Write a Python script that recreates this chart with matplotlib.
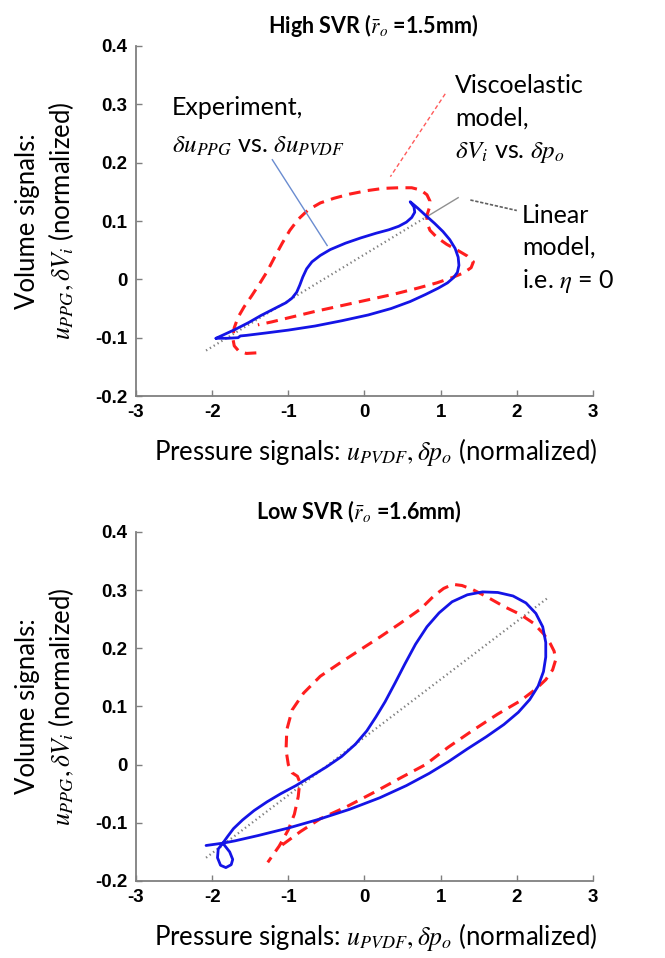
import matplotlib
matplotlib.use('Agg')
import matplotlib.pyplot as plt
import numpy as np

plt.rcParams['font.family'] = ['Lato', 'DejaVu Sans']
plt.rcParams['mathtext.fontset'] = 'stix'

# ---------------- data: High SVR (top panel) ----------------
hi_exp_x = [-1.95, -1.85, -1.70, -1.52, -1.36, -1.18, -1.03, -0.95, -0.89, -0.85, -0.81, -0.76,
            -0.69, -0.58, -0.45, -0.25, -0.05, 0.15, 0.32, 0.45, 0.55, 0.62, 0.66, 0.65, 0.60,
            0.70, 0.80, 0.92, 1.03, 1.12, 1.19, 1.23, 1.24, 1.22, 1.17, 1.09, 0.97, 0.80, 0.60,
            0.35, 0.05, -0.30, -0.65, -1.00, -1.30, -1.55, -1.63, -1.66, -1.80, -1.95]
hi_exp_y = [-0.101, -0.095, -0.086, -0.074, -0.062, -0.050, -0.040, -0.032, -0.022, -0.010, 0.004, 0.018,
            0.030, 0.041, 0.051, 0.062, 0.071, 0.079, 0.085, 0.091, 0.098, 0.106, 0.115, 0.124, 0.133,
            0.122, 0.110, 0.096, 0.082, 0.068, 0.053, 0.038, 0.024, 0.012, 0.003, -0.006, -0.015, -0.026, -0.038,
            -0.050, -0.061, -0.071, -0.080, -0.087, -0.092, -0.096, -0.097, -0.100, -0.101, -0.101]

hi_visc_x = [-1.42, -1.55, -1.65, -1.71, -1.73, -1.71, -1.66, -1.58, -1.48, -1.38, -1.28, -1.18,
             -1.08, -0.98, -0.87, -0.74, -0.58, -0.40, -0.20, 0.03, 0.25, 0.45, 0.62, 0.74, 0.82,
             0.86, 0.85, 0.82, 0.82, 0.86, 0.95, 1.08, 1.22, 1.35, 1.43, 1.40, 1.30, 1.15, 0.95,
             0.70, 0.40, 0.05, -0.30, -0.65, -1.00, -1.22, -1.40]
hi_visc_y = [-0.126, -0.127, -0.123, -0.114, -0.100, -0.083, -0.065, -0.047, -0.028, -0.008, 0.013, 0.038,
             0.062, 0.084, 0.103, 0.119, 0.131, 0.139, 0.146, 0.152, 0.156, 0.157, 0.157, 0.153, 0.145,
             0.134, 0.122, 0.110, 0.097, 0.084, 0.072, 0.060, 0.050, 0.040, 0.030, 0.020, 0.011, 0.003, -0.006,
             -0.015, -0.025, -0.035, -0.045, -0.055, -0.066, -0.073, -0.078]

hi_lin_x = [-2.08, 0.80]
hi_lin_y = [-0.122, 0.106]
hi_lin_tail_x = [0.80, 1.23]
hi_lin_tail_y = [0.106, 0.140]

# ---------------- data: Low SVR (bottom panel) ----------------
lo_exp_x = [-2.08, -1.97, -1.86, -1.80, -1.72, -1.60, -1.45, -1.28, -1.10, -0.90, -0.70, -0.50,
            -0.30, -0.12, 0.03, 0.15, 0.27, 0.40, 0.53, 0.67, 0.82, 0.98, 1.15, 1.35, 1.55,
            1.75, 1.95, 2.12, 2.25, 2.34, 2.38, 2.38, 2.35, 2.28, 2.17, 2.02, 1.83, 1.60, 1.35,
            1.10, 0.85, 0.55, 0.20, -0.20, -0.60, -1.00, -1.40, -1.70, -1.86, -1.92, -1.93,
            -1.89, -1.82, -1.75, -1.73, -1.77, -1.86]
lo_exp_y = [-0.139, -0.137, -0.135, -0.124, -0.110, -0.095, -0.079, -0.064, -0.050, -0.036, -0.020, -0.004,
            0.014, 0.035, 0.058, 0.082, 0.108, 0.140, 0.173, 0.207, 0.237, 0.261, 0.280, 0.292, 0.297,
            0.296, 0.290, 0.278, 0.260, 0.237, 0.210, 0.185, 0.160, 0.135, 0.112, 0.090, 0.069, 0.048, 0.027,
            0.005, -0.015, -0.036, -0.057, -0.077, -0.094, -0.109, -0.122, -0.131, -0.135, -0.145, -0.160,
            -0.173, -0.177, -0.172, -0.163, -0.150, -0.135]

lo_visc_x = [-1.08, -0.84, -0.58, -0.23, 0.12, 0.47, 0.80, 1.10, 1.40, 1.75, 2.05, 2.25, 2.38,
             2.47, 2.51, 2.49, 2.44, 2.35, 2.22, 2.05, 1.83, 1.60, 1.42, 1.28, 1.16, 1.04, 0.91,
             0.74, 0.47, 0.21, -0.05, -0.32, -0.58, -0.80, -0.95, -1.02, -1.03, -1.00, -0.95,
             -0.88, -0.85, -0.87, -0.92, -1.00, -1.12, -1.27]
lo_visc_y = [-0.138, -0.115, -0.093, -0.072, -0.048, -0.023, 0.000, 0.030, 0.057, 0.087, 0.110, 0.130, 0.146,
             0.163, 0.180, 0.195, 0.208, 0.225, 0.243, 0.258, 0.272, 0.289, 0.301, 0.308, 0.310, 0.303, 0.290,
             0.268, 0.243, 0.220, 0.198, 0.175, 0.152, 0.123, 0.094, 0.060, 0.025, 0.000, -0.014,
             -0.020, -0.030, -0.055, -0.085, -0.112, -0.140, -0.168]

lo_lin_x = [-2.08, 2.42]
lo_lin_y = [-0.160, 0.288]

xticks = [-3, -2, -1, 0, 1, 2, 3]
yticks = [-0.2, -0.1, 0, 0.1, 0.2, 0.3, 0.4]
ytick_labels = ['-0.2', '-0.1', '0', '0.1', '0.2', '0.3', '0.4']

blue = '#1414e6'
red = '#ff1e1e'
gray = '#7f7f7f'

fig = plt.figure(figsize=(6.65, 9.58), dpi=100)
ax1 = fig.add_axes([0.2045, 0.5866, 0.6872, 0.3654])
ax2 = fig.add_axes([0.2045, 0.0804, 0.6872, 0.3643])


def style_axes(ax, title, title_x):
    ax.set_xlim(-3, 3)
    ax.set_ylim(-0.2, 0.4)
    ax.set_xticks(xticks)
    ax.set_xticklabels([str(t) for t in xticks])
    ax.set_yticks(yticks)
    ax.set_yticklabels(ytick_labels)
    for s in ['top', 'right']:
        ax.spines[s].set_visible(False)
    for s in ['left', 'bottom']:
        ax.spines[s].set_color(gray)
        ax.spines[s].set_linewidth(1.3)
    ax.tick_params(direction='in', length=4, width=1, color=gray, pad=6)
    for lab in ax.get_xticklabels() + ax.get_yticklabels():
        lab.set_fontfamily('Liberation Sans')
        lab.set_fontweight('bold')
        lab.set_fontsize(13.5)
    ax.set_title(title, fontsize=15.5, fontweight='bold', pad=9, x=title_x)
    ax.set_xlabel('Pressure signals: $u_{PVDF}, \\delta p_o$ (normalized)', fontsize=18.5, labelpad=12)
    ax.xaxis.set_label_coords(0.525, -0.115)
    ax.set_ylabel('Volume signals:\n$u_{PPG}, \\delta V_i$ (normalized)', fontsize=18.5, labelpad=14,
                  linespacing=1.25)


dash = (0, (3.8, 2.4))
kw = dict(solid_joinstyle='round', solid_capstyle='round', dash_joinstyle='round')

# top panel
ax1.plot(hi_lin_x, hi_lin_y, color=gray, lw=1.6, linestyle=(0, (0.6, 1.4)))
ax1.plot(hi_lin_tail_x, hi_lin_tail_y, color='#909090', lw=1.0)
ax1.plot(hi_visc_x, hi_visc_y, color=red, lw=2.2, linestyle=dash, **kw)
ax1.plot(hi_exp_x, hi_exp_y, color=blue, lw=2.0, **kw)
style_axes(ax1, 'High SVR ($\\bar{r}_o$ =1.5mm)', 0.52)

# annotations
ax1.plot([-1.21, -0.49], [0.205, 0.058], color='#6a8cd0', lw=1.0)
ax1.plot([1.06, 0.34], [0.318, 0.176], color='#ff5a5a', lw=1.0, linestyle=(0, (3, 2)))
ax1.plot([1.39, 2.00], [0.136, 0.118], color='#606060', lw=1.2, linestyle=(0, (2, 1)))

fs = 18
ax1.text(-2.53, 0.295, 'Experiment,', fontsize=fs, va='center', ha='left')
ax1.text(-2.53, 0.228, '$\\delta u_{PPG}$ vs. $\\delta u_{PVDF}$', fontsize=fs, va='center', ha='left')
ax1.text(1.19, 0.333, 'Viscoelastic', fontsize=fs, va='center', ha='left')
ax1.text(1.19, 0.276, 'model,', fontsize=fs, va='center', ha='left')
ax1.text(1.19, 0.218, '$\\delta V_i$ vs. $\\delta p_o$', fontsize=fs, va='center', ha='left')
ax1.text(2.07, 0.110, 'Linear', fontsize=fs, va='center', ha='left')
ax1.text(2.07, 0.055, 'model,', fontsize=fs, va='center', ha='left')
ax1.text(2.07, -0.002, 'i.e. $\\eta$ = 0', fontsize=fs, va='center', ha='left')

# bottom panel
ax2.plot(lo_lin_x, lo_lin_y, color=gray, lw=1.6, linestyle=(0, (0.6, 1.4)))
ax2.plot(lo_visc_x, lo_visc_y, color=red, lw=2.2, linestyle=dash, **kw)
ax2.plot(lo_exp_x, lo_exp_y, color=blue, lw=2.0, **kw)
style_axes(ax2, 'Low SVR ($\\bar{r}_o$ =1.6mm)', 0.487)

plt.savefig('out.png', dpi=100)
